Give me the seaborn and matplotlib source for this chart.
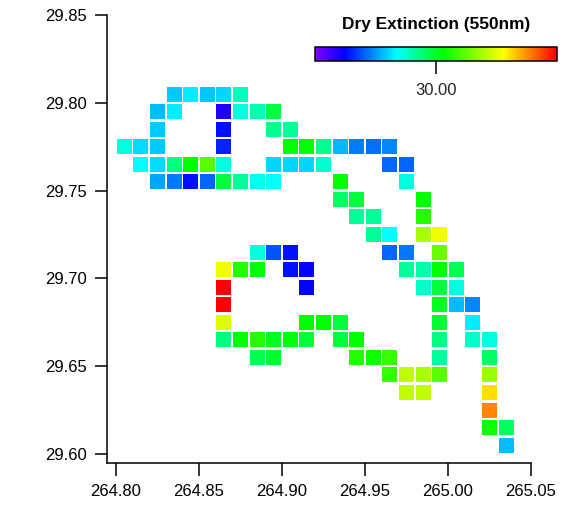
import numpy as np
import pandas as pd
import matplotlib
matplotlib.use("Agg")
import matplotlib.pyplot as plt
from matplotlib.colors import LinearSegmentedColormap, Normalize
from matplotlib.cm import ScalarMappable
import seaborn as sns

# ---- data: grid cells (longitude, latitude, dry extinction at 550 nm) ----
lon = [
    264.835, 264.845, 264.855, 264.865, 264.875,
    264.825, 264.835, 264.865, 264.875, 264.885, 264.895,
    264.825, 264.865, 264.895, 264.905,
    264.805, 264.815, 264.825, 264.865, 264.905, 264.915, 264.925, 264.935, 264.945, 264.955, 264.965,
    264.815, 264.825, 264.835, 264.845, 264.855, 264.865, 264.895, 264.905, 264.915, 264.925, 264.965, 264.975,
    264.825, 264.835, 264.845, 264.855, 264.865, 264.875, 264.885, 264.895, 264.935, 264.975,
    264.935, 264.945, 264.985,
    264.945, 264.955, 264.985,
    264.955, 264.965, 264.985, 264.995,
    264.885, 264.895, 264.905, 264.965, 264.975, 264.995,
    264.865, 264.875, 264.885, 264.905, 264.915, 264.975, 264.985, 264.995, 265.005,
    264.865, 264.915, 264.985, 264.995, 265.005,
    264.865, 264.995, 265.005, 265.015,
    264.865, 264.915, 264.925, 264.935, 264.995, 265.015,
    264.865, 264.875, 264.885, 264.895, 264.905, 264.915, 264.935, 264.945, 264.995, 265.015, 265.025,
    264.885, 264.895, 264.945, 264.955, 264.965, 264.995, 265.025,
    264.965, 264.975, 264.985, 264.995, 265.025,
    264.975, 264.985, 265.025,
    265.025,
    265.025, 265.035,
    265.035,
]
lat = (
    [29.805] * 5 + [29.795] * 6 + [29.785] * 4 + [29.775] * 11 + [29.765] * 12
    + [29.755] * 10 + [29.745] * 3 + [29.735] * 3 + [29.725] * 4 + [29.715] * 6
    + [29.705] * 9 + [29.695] * 5 + [29.685] * 4 + [29.675] * 6 + [29.665] * 11
    + [29.655] * 7 + [29.645] * 5 + [29.635] * 3 + [29.625] * 1 + [29.615] * 2
    + [29.605] * 1
)
extinction = [
    25.9, 26.5, 25.8, 26.1, 27.8,
    25.7, 26.5, 21.8, 27.3, 28.0, 29.7,
    25.9, 22.7, 28.5, 28.3,
    27.3, 26.2, 25.9, 23.0, 30.6, 30.6, 28.5, 25.6, 24.6, 24.3, 24.7,
    26.8, 26.2, 28.6, 30.6, 32.3, 27.3, 26.1, 26.1, 26.1, 27.5, 24.2, 24.2,
    25.3, 24.5, 22.7, 24.2, 29.7, 28.3, 27.1, 26.8, 30.6, 27.3,
    29.2, 29.7, 30.6,
    28.3, 28.3, 31.3,
    28.3, 26.8, 33.9, 35.3,
    27.3, 23.9, 22.7, 24.2, 24.5, 32.6,
    35.3, 31.3, 30.6, 22.7, 22.4, 28.3, 28.1, 30.6, 29.4,
    40.0, 22.4, 27.6, 29.7, 27.3,
    40.0, 30.1, 25.7, 24.7,
    34.9, 30.6, 30.6, 29.7, 29.9, 26.5,
    28.7, 30.6, 31.3, 30.1, 30.4, 29.7, 29.7, 30.6, 28.7, 27.6, 27.3,
    29.4, 29.9, 31.3, 30.9, 31.6, 28.3, 29.2,
    31.6, 34.3, 33.9, 32.3, 33.6,
    34.3, 34.3, 36.1,
    37.7,
    30.9, 29.1,
    25.7,
]
x_ticks = [264.80, 264.85, 264.90, 264.95, 265.00, 265.05]
y_ticks = [29.60, 29.65, 29.70, 29.75, 29.80, 29.85]
cbar_ticks = [30.0]
cbar_title = "Dry Extinction (550nm)"
vmin, vmax = 20.0, 40.0

df = pd.DataFrame({"lon": lon, "lat": lat, "ext": extinction})

# Igor-like rainbow
cmap = LinearSegmentedColormap.from_list(
    "igor_rainbow",
    [(0.0, "#8000ff"), (0.12, "#0000ff"), (0.34, "#00ffff"),
     (0.53, "#00ff00"), (0.78, "#ffff00"), (1.0, "#ff0000")],
)
norm = Normalize(vmin=vmin, vmax=vmax)

sns.set_theme(style="white")
plt.rcParams["font.family"] = ["Liberation Sans", "DejaVu Sans"]

W, H = 572, 524
fig = plt.figure(figsize=(W / 100, H / 100), dpi=100)
ax = fig.add_axes([106.7 / W, 1 - 463.3 / H, (531 - 106.7) / W, (463.3 - 15) / H])

sns.scatterplot(
    data=df, x="lon", y="lat", hue="ext", palette=cmap, hue_norm=norm,
    marker="s", s=(15 * 0.72) ** 2, linewidth=0, legend=False, ax=ax,
)

ax.set_xlim(264.7944, 265.05)
ax.set_ylim(29.5947, 29.85)
ax.set_xticks(x_ticks)
ax.set_yticks(y_ticks)
ax.set_xticklabels([f"{v:.2f}" for v in x_ticks])
ax.set_yticklabels([f"{v:.2f}" for v in y_ticks])
ax.set_xlabel("")
ax.set_ylabel("")
for side in ["top", "right"]:
    ax.spines[side].set_visible(False)
for side in ["left", "bottom"]:
    ax.spines[side].set_color("black")
    ax.spines[side].set_linewidth(1.1)
ax.tick_params(axis="both", direction="out", length=9, width=1.1, color="black",
               labelsize=12, labelcolor="black")
ax.tick_params(axis="x", pad=6, bottom=True)
ax.tick_params(axis="y", pad=5, left=True)

# colorbar
cax = fig.add_axes([315 / W, 1 - 60.7 / H, (556.7 - 315) / W, 14 / H])
sm = ScalarMappable(norm=norm, cmap=cmap)
cb = fig.colorbar(sm, cax=cax, orientation="horizontal")
cb.set_ticks(cbar_ticks)
cb.set_ticklabels([f"{v:.2f}" for v in cbar_ticks])
cb.outline.set_edgecolor("black")
cb.outline.set_linewidth(1.1)
cax.tick_params(axis="x", direction="out", length=9, width=1.1, color="black",
                labelsize=12, pad=7, bottom=True)
fig.text(436 / W, 1 - 25 / H, cbar_title, ha="center", va="center",
         fontsize=12.4, fontweight="bold", color="black")

fig.savefig("out.png", dpi=100, facecolor="white")
